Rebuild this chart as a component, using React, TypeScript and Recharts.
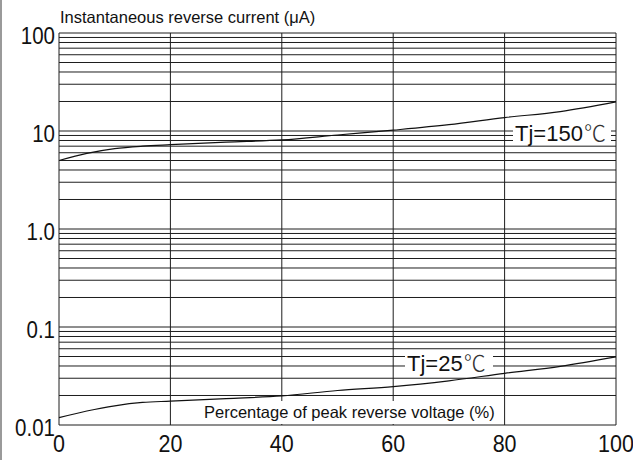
import React from 'react';
import { LineChart, Line, XAxis, YAxis, CartesianGrid } from 'recharts';

const xValues = [0, 5, 10, 15, 20, 30, 40, 50, 60, 70, 80, 90, 100];
const tj150 = [5.0, 5.9, 6.6, 7.0, 7.25, 7.7, 8.1, 9.1, 10.2, 11.6, 13.7, 15.8, 19.8];
const tj25 = [0.0119, 0.0139, 0.0157, 0.017, 0.0175, 0.0186, 0.0198, 0.0225, 0.0246, 0.0282, 0.0337, 0.0397, 0.0495];

const xTicks = [0, 20, 40, 60, 80, 100];
const yGridTicks = [
  0.01, 0.02, 0.03, 0.04, 0.05, 0.06, 0.07, 0.08, 0.09,
  0.1, 0.2, 0.3, 0.4, 0.5, 0.6, 0.7, 0.8, 0.9,
  1, 2, 3, 4, 5, 6, 7, 8, 9,
  10, 20, 30, 40, 50, 60, 70, 80, 90, 100,
];
const yLabelValues = [0.01, 0.1, 1, 10, 100];
const yLabelTexts = ['0.01', '0.1', '1.0', '10', '100'];

const yTitle = 'Instantaneous reverse current (μA)';
const xTitle = 'Percentage of peak reverse voltage (%)';
const label150 = 'Tj=150';
const label25 = 'Tj=25';
const degC = '℃';

const data = xValues.map((x, i) => ({ x, t150: tj150[i], t25: tj25[i] }));

const FONT = '"Liberation Sans", Arial, "Noto Sans CJK JP", sans-serif';
const CJK = '"Noto Sans CJK JP", "Liberation Sans", sans-serif';

const YTick = (props: any) => {
  const { x, y, payload } = props;
  const idx = yLabelValues.findIndex((v) => Math.abs(v - payload.value) < 1e-9);
  if (idx < 0) return null;
  return (
    <text
      transform={`translate(${x},${y + 10.5}) scale(1,1.15)`}
      textAnchor="end"
      fontFamily={FONT}
      fontSize={20.5}
      fill="#111"
    >
      {yLabelTexts[idx]}
    </text>
  );
};

const XTick = (props: any) => {
  const { x, y, payload } = props;
  return (
    <text
      transform={`translate(${x},${y + 27}) scale(1,1.08)`}
      textAnchor="middle"
      fontFamily={FONT}
      fontSize={21.5}
      fill="#111"
    >
      {String(payload.value)}
    </text>
  );
};

const boxStyle: React.CSSProperties = {
  position: 'absolute',
  background: '#fff',
  fontFamily: FONT,
  color: '#111',
  whiteSpace: 'nowrap',
};

const degStyle: React.CSSProperties = { fontFamily: CJK, fontWeight: 300, color: '#333', marginLeft: 1 };

export default function App() {
  return (
    <div style={{ position: 'absolute', left: 0, top: 0, width: 633, height: 460, background: '#fff', overflow: 'hidden' }}>
      <div style={{ position: 'absolute', left: 0, top: 0, width: 2, height: 460, background: '#9a9a9a' }} />
      <LineChart width={633} height={460} data={data} margin={{ top: 33, right: 17, bottom: 0, left: 0 }}>
        <CartesianGrid stroke="#1e1e1e" strokeWidth={1} />
        <XAxis
          dataKey="x"
          type="number"
          domain={[0, 100]}
          ticks={xTicks}
          height={35}
          tickSize={0}
          tickMargin={0}
          axisLine={false}
          tickLine={false}
          tick={<XTick />}
          interval={0}
        />
        <YAxis
          type="number"
          scale="log"
          domain={[0.01, 100]}
          ticks={yGridTicks}
          width={59}
          tickSize={0}
          tickMargin={4}
          axisLine={false}
          tickLine={false}
          tick={<YTick />}
          interval={0}
          allowDataOverflow
        />
        <Line dataKey="t150" type="monotone" stroke="#111" strokeWidth={1.2} dot={false} isAnimationActive={false} />
        <Line dataKey="t25" type="monotone" stroke="#111" strokeWidth={1.2} dot={false} isAnimationActive={false} />
      </LineChart>
      <div style={{ ...boxStyle, left: 60, top: 6, fontSize: 16.5, lineHeight: '22px', background: 'transparent' }}>{yTitle}</div>
      <div style={{ ...boxStyle, left: 200, top: 401, width: 297, height: 23, fontSize: 16.5, lineHeight: '23px', paddingLeft: 4, boxSizing: 'border-box' }}>{xTitle}</div>
      <div style={{ ...boxStyle, left: 513, top: 118, width: 98, height: 27, fontSize: 22, lineHeight: '27px', paddingLeft: 2, boxSizing: 'border-box' }}>
        {label150}<span style={degStyle}>{degC}</span>
      </div>
      <div style={{ ...boxStyle, left: 405, top: 350, width: 88, height: 22, fontSize: 22, lineHeight: '22px', paddingLeft: 2, boxSizing: 'border-box' }}>
        {label25}<span style={degStyle}>{degC}</span>
      </div>
    </div>
  );
}
